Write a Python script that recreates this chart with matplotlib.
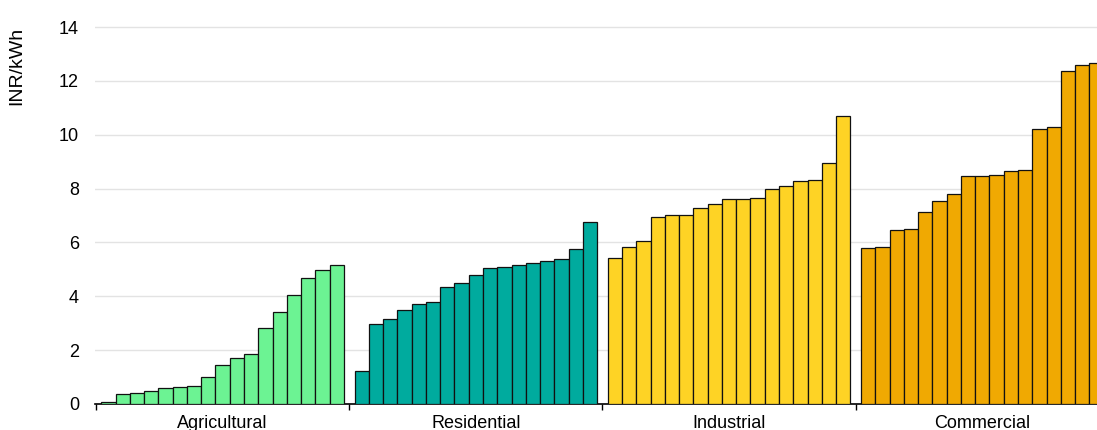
import matplotlib.pyplot as plt
import numpy as np

plt.rcParams['font.family'] = ['Liberation Sans', 'DejaVu Sans']

# tariffs (INR/kWh), sorted within each sector
sectors = ['Agricultural', 'Residential', 'Industrial', 'Commercial']
colors = ['#6cf393', '#00ab9e', '#fed325', '#f0a902']

agricultural = [0.07, 0.37, 0.40, 0.50, 0.58, 0.64, 0.67, 1.00, 1.46, 1.71,
                1.85, 2.81, 3.42, 4.06, 4.68, 4.96, 5.18]
residential = [1.24, 2.98, 3.17, 3.48, 3.71, 3.77, 4.33, 4.51, 4.78, 5.06,
               5.09, 5.18, 5.22, 5.30, 5.38, 5.76, 6.77]
industrial = [5.41, 5.82, 6.07, 6.96, 7.02, 7.03, 7.27, 7.44, 7.60, 7.63,
              7.65, 8.00, 8.08, 8.27, 8.33, 8.95, 10.68]
commercial = [5.80, 5.84, 6.47, 6.51, 7.12, 7.55, 7.79, 8.46, 8.47, 8.49,
              8.67, 8.70, 10.22, 10.29, 12.36, 12.60, 12.67]
tariffs = [agricultural, residential, industrial, commercial]
yticks = [0, 2, 4, 6, 8, 10, 12, 14]

fig = plt.figure(figsize=(10.97, 4.30), dpi=100)
ax = fig.add_axes([95 / 1097, 1 - 404 / 430, 1 - 95 / 1097, 378.3 / 430])

gap = 0.76
pitch = 17 + gap
for g, (vals, c) in enumerate(zip(tariffs, colors)):
    x = g * pitch + gap / 2 + np.arange(len(vals))
    ax.bar(x, vals, width=1, align='edge', color=c, edgecolor='#111111',
           linewidth=0.9, zorder=3)

ax.set_xlim(-0.07, 70.2)
ax.set_ylim(0, 14.05)
ax.set_yticks(yticks)
ax.yaxis.grid(True, color='#e3e3e3', linewidth=1)
ax.set_axisbelow(True)
ax.tick_params(axis='y', length=0, pad=11.5, labelsize=13)

ax.set_xticks([g * pitch for g in range(4)])
ax.set_xticklabels([])
ax.set_xticks([g * pitch + pitch / 2 for g in range(4)], minor=True)
ax.set_xticklabels(sectors, minor=True)
ax.tick_params(axis='x', which='major', length=4, width=1, color='black')
ax.tick_params(axis='x', which='minor', length=0, pad=8, labelsize=13)

for s in ['top', 'right', 'left']:
    ax.spines[s].set_visible(False)
ax.spines['bottom'].set_linewidth(1.2)

fig.text(17 / 1097, 1 - 27 / 430, 'INR/kWh', rotation=90, ha='center',
         va='top', fontsize=14)

fig.savefig('out.png', dpi=100)
